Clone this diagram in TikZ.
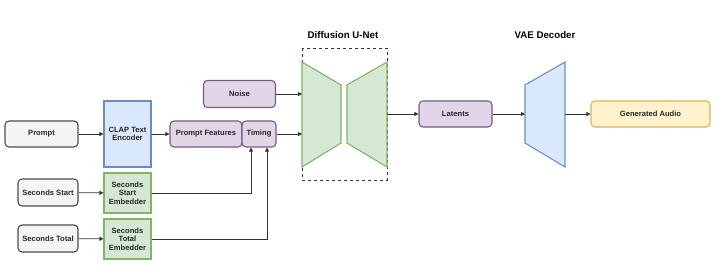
\documentclass[tikz,border=0pt]{standalone}
\usepackage{fontspec}
\setmainfont{Liberation Sans}
\usetikzlibrary{arrows.meta}
\definecolor{grayfill}{HTML}{F5F5F5}
\definecolor{graydraw}{HTML}{4D4D4D}
\definecolor{bluefill}{HTML}{DAE8FC}
\definecolor{bluedraw}{HTML}{6C8EBF}
\definecolor{greenfill}{HTML}{D5E8D4}
\definecolor{greendraw}{HTML}{82B366}
\definecolor{purplefill}{HTML}{E1D5E7}
\definecolor{purpledraw}{HTML}{6E5F85}
\definecolor{yellowfill}{HTML}{FFF2CC}
\definecolor{yellowdraw}{HTML}{D6B656}
\definecolor{linecol}{HTML}{333333}
\tikzset{
  box/.style={draw, line width=1.1pt, inner sep=0pt, align=center,
    font=\fontsize{7.6}{8.6}\selectfont\bfseries, text=black!85},
  graybox/.style={box, fill=grayfill, draw=graydraw, rounded corners=4pt},
  bluebox/.style={box, fill=bluefill, draw=bluedraw},
  greenbox/.style={box, fill=greenfill, draw=greendraw},
  purplebox/.style={box, fill=purplefill, draw=purpledraw, rounded corners=4pt},
  yellowbox/.style={box, fill=yellowfill, draw=yellowdraw, rounded corners=4pt},
  conn/.style={draw=linecol, line width=0.8pt, -{Triangle[length=4pt,width=4pt]}},
  title/.style={font=\fontsize{9.7}{11}\selectfont\bfseries},
  trap/.style={line width=1.1pt, line join=miter}
}
\begin{document}
\begin{tikzpicture}[x=1pt,y=-1pt]
\fill[white] (0,0) rectangle (720,272);
\useasboundingbox (0,0) rectangle (720,272);

% titles
\node[title] (t1) at (343,35) {Diffusion U-Net};
\node[title] (t2) at (545,35) {VAE Decoder};

% dashed frame
\draw[dashed, line width=0.5pt, black!80] (302,48) rectangle (387,180);

% U-Net trapezoids
\draw[trap, fill=greenfill, draw=greendraw] (302,62) -- (341,85) -- (341,143) -- (302,167) -- cycle;
\draw[trap, fill=greenfill, draw=greendraw] (347,85) -- (387,62) -- (387,167) -- (347,143) -- cycle;
% VAE decoder
\draw[trap, fill=bluefill, draw=bluedraw] (525,85) -- (565,62) -- (565,167) -- (525,143) -- cycle;

\coordinate (unetin1) at (302,94);
\coordinate (unetin2) at (302,134);
\coordinate (unetout) at (387,114);
\coordinate (vaein) at (525,114);
\coordinate (vaeout) at (565,114);

% nodes
\node[graybox, minimum width=73pt, minimum height=26pt] (prompt) at (41.5,134) {Prompt};
\node[bluebox, minimum width=47pt, minimum height=66pt] (clap) at (127.5,134) {CLAP Text\\Encoder};
\node[graybox, minimum width=60pt, minimum height=27pt] (sstart) at (48,192.5) {Seconds Start};
\node[greenbox, minimum width=47pt, minimum height=40pt] (sse) at (127.5,193) {Seconds\\Start\\Embedder};
\node[graybox, minimum width=60pt, minimum height=27pt] (stotal) at (48,238.5) {Seconds Total};
\node[greenbox, minimum width=47pt, minimum height=40pt] (ste) at (127.5,239) {Seconds\\Total\\Embedder};
\node[purplebox, minimum width=72pt, minimum height=26pt] (pf) at (206,134) {Prompt Features};
\node[purplebox, minimum width=34pt, minimum height=26pt] (timing) at (259,134) {Timing};
\node[purplebox, minimum width=72pt, minimum height=27pt] (noise) at (239.5,94) {Noise};
\node[purplebox, minimum width=73pt, minimum height=26pt] (latents) at (455.5,114) {Latents};
\node[yellowbox, minimum width=119pt, minimum height=26pt] (audio) at (650.5,114) {Generated Audio};

% connectors
\draw[conn] (prompt) -- (clap);
\draw[conn] (clap) -- (pf);
\draw[conn] (sstart) -- (sse);
\draw[conn] (stotal) -- (ste);
\draw[conn] (sse.east) -| ([xshift=-8pt]timing.south);
\draw[conn] (ste.east) -| ([xshift=8pt]timing.south);
\draw[conn] (noise.east) -- (unetin1);
\draw[conn] (timing.east) -- (unetin2);
\draw[conn] (unetout) -- (latents.west);
\draw[conn] (latents.east) -- (vaein);
\draw[conn] (vaeout) -- (audio.west);
\end{tikzpicture}
\end{document}
